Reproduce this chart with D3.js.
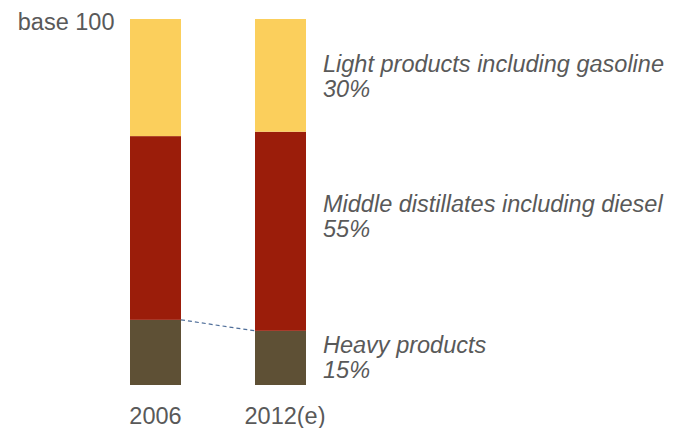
<!DOCTYPE html>
<html><head><meta charset="utf-8">
<script src="https://cdn.jsdelivr.net/npm/d3@7"></script>
<style>
body{margin:0;background:#fff;}
text{font-family:"Liberation Sans",Arial,sans-serif;fill:#595959;}
</style></head><body>
<svg id="chart" width="673" height="428"></svg>
<script>
const years = ["2006", "2012(e)"];
const heavy = [17.8, 14.8];
const middle = [50.2, 54.4];
const light = [32.0, 30.8];
const seriesNames = ["Heavy products", "Middle distillates including diesel", "Light products including gasoline"];
const seriesShares = ["15%", "55%", "30%"];
const colors = ["#5E5035", "#9B1D0A", "#FBCF5C"];

const FS = "23.5px";
const svg = d3.select("#chart");
const x = d3.scaleBand().domain(years).range([130, 306]).paddingInner(0.592).paddingOuter(0);
const y = d3.scaleLinear().domain([0, 100]).range([385, 19]);

const rows = years.map((yr, i) => ({year: yr, heavy: heavy[i], middle: middle[i], light: light[i]}));
const stack = d3.stack().keys(["heavy", "middle", "light"]);
const stacked = stack(rows);

svg.selectAll("g.layer").data(stacked).join("g").attr("class", "layer")
  .attr("fill", (d, i) => colors[i])
  .selectAll("rect").data(d => d).join("rect")
  .attr("x", d => x(d.data.year))
  .attr("width", x.bandwidth())
  .attr("y", d => y(d[1]))
  .attr("height", d => y(d[0]) - y(d[1]));

// dashed connector between heavy tops
svg.append("line")
  .attr("x1", x(years[0]) + x.bandwidth())
  .attr("y1", y(heavy[0]))
  .attr("x2", x(years[1]))
  .attr("y2", y(heavy[1]))
  .attr("stroke", "#4F6E99")
  .attr("stroke-width", 1.2)
  .attr("stroke-dasharray", "4,3");

// x axis labels
const xAxis = d3.axisBottom(x).tickSize(0).tickPadding(0);
const gx = svg.append("g").attr("transform", "translate(0,424)").call(xAxis);
gx.select(".domain").remove();
gx.selectAll("text").style("font-size", FS).attr("fill", "#595959").attr("dy", "0")
  .attr("dx", (d, i) => i === 1 ? 4.5 : 0);

svg.append("text").attr("x", 114.5).attr("y", 30).attr("text-anchor", "end")
  .style("font-size", FS).text("base 100");

// series labels on right
const labelY = [353.3, 212.3, 72.3];
seriesNames.forEach((n, i) => {
  const t = svg.append("text").attr("x", 323).attr("y", labelY[i])
    .style("font-size", FS).style("font-style", "italic");
  t.append("tspan").attr("x", 323).text(n);
  t.append("tspan").attr("x", 323).attr("dy", 25).text(seriesShares[i]);
});
</script></body></html>
